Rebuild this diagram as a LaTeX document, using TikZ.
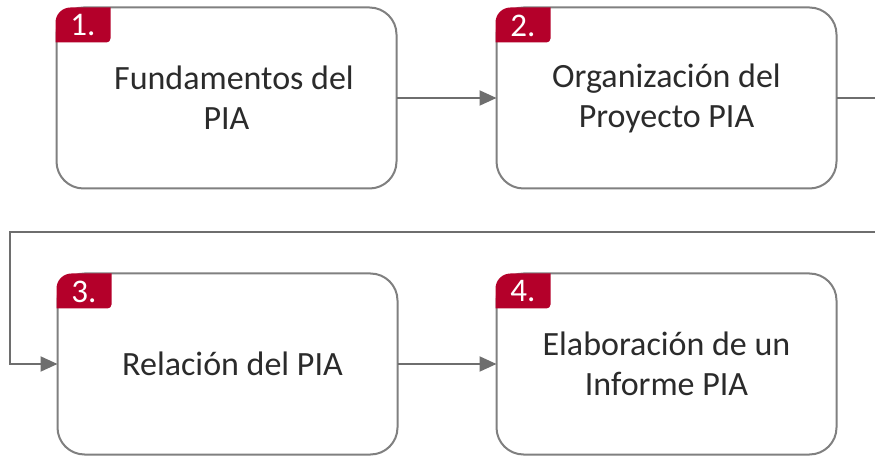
\documentclass[tikz,border=0pt]{standalone}
\usepackage{fontspec}
\setmainfont{Carlito}
\usetikzlibrary{arrows.meta,calc}
\definecolor{boxgray}{HTML}{808080}
\definecolor{arrowgray}{HTML}{6E6E6E}
\definecolor{tagred}{HTML}{B4002A}
\definecolor{txt}{HTML}{2B2B2B}
\tikzset{
  stepbox/.style={draw=boxgray, line width=2pt, rounded corners=27pt, minimum width=340pt, minimum height=181pt, inner sep=0pt, outer sep=0pt, align=center, text=txt, font=\fontsize{34}{40}\selectfont, fill=white},
  flow/.style={draw=arrowgray, line width=2pt, -{Triangle[length=17pt,width=15pt]}},
  tagnum/.style={text=white, font=\fontsize{33}{39}\selectfont, inner sep=0pt}
}
\newcommand{\steptag}[2]{%
  \fill[tagred] (#1.north west) ++(-1pt,-35pt) -- ++(0,20pt) arc[start angle=180,end angle=90,radius=15pt] -- ++(40pt,0) -- ++(0,-31pt) arc[start angle=0,end angle=-90,radius=4pt] -- cycle;
  \node[tagnum] at ($(#1.north west)+(26.5pt,-18pt)$) {#2};
}
\begin{document}
\begin{tikzpicture}[x=1pt,y=1pt]
\clip (0,0) rectangle (875,455);
\fill[white] (0,0) rectangle (875,455);
\node[stepbox] (b1) at (226.5,357) {\hspace*{15pt}Fundamentos del\\PIA};
\node[stepbox] (b2) at (666.5,357) {Organización del\\Proyecto PIA};
\node[stepbox] (b3) at (227.5,91) {\hspace*{10pt}Relación del PIA};
\node[stepbox] (b4) at (666.5,91) {Elaboración de un\\Informe PIA};
\coordinate (r1) at (885,357);
\coordinate (r2) at (885,223);
\coordinate (l1) at (10,223);
\draw[flow] (b1.east) -- (b2.west);
\draw[flow] (b2.east) -- (r1) -- (r2) -- (l1) |- (b3.west);
\draw[flow] (b3.east) -- (b4.west);
\steptag{b1}{1.}
\steptag{b2}{2.}
\steptag{b3}{3.}
\steptag{b4}{4.}
\end{tikzpicture}
\end{document}
